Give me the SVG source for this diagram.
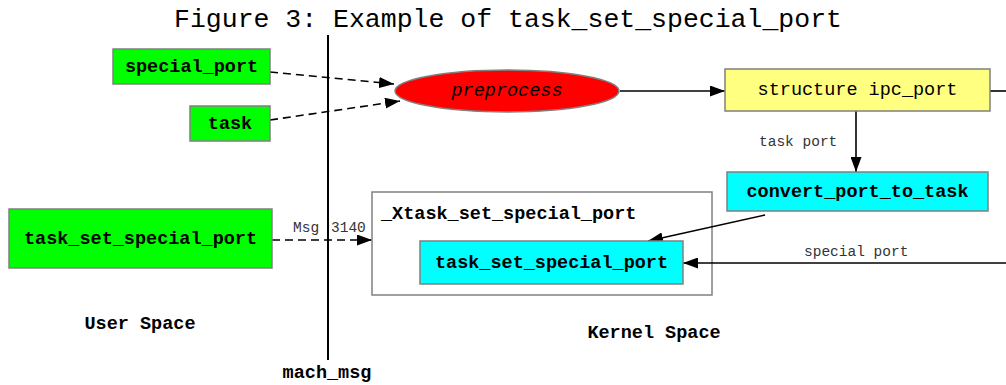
<svg xmlns="http://www.w3.org/2000/svg" width="1006" height="385" viewBox="0 0 1006 385">
  <defs>
    <marker id="arrow" markerUnits="userSpaceOnUse" markerWidth="15" markerHeight="11" refX="15" refY="5.5" orient="auto">
      <path d="M0,0 L15,5.5 L0,11 z" fill="#000"/>
    </marker>
  </defs>
  <style>
    .node { stroke: #808080; stroke-width: 1.5; }
    .user { fill: #00ff00; }
    .kern { fill: #00ffff; }
    .lbl { font-family: "Liberation Mono", "Courier New", monospace; font-size: 18.5px; font-weight: bold; fill: #000; text-anchor: middle; dominant-baseline: central; }
    .edge { stroke: #000; stroke-width: 1.6; fill: none; marker-end: url(#arrow); }
    .dash { stroke-dasharray: 8 5; }
    .elbl { font-family: "Liberation Mono", "Courier New", monospace; font-size: 14.5px; fill: #333; }
    .area { font-family: "Liberation Mono", "Courier New", monospace; font-size: 18.5px; font-weight: bold; fill: #000; }
  </style>
  <rect width="1006" height="385" fill="#fff"/>

  <!-- title -->
  <text x="508" y="27" text-anchor="middle" font-family="Liberation Mono, Courier New, monospace" font-size="26.5" fill="#000">Figure 3: Example of task_set_special_port</text>

  <!-- mach_msg boundary between user and kernel space -->
  <line x1="328" y1="35" x2="328" y2="360" stroke="#000" stroke-width="2"/>
  <text class="area" x="327" y="378" text-anchor="middle">mach_msg</text>
  <text class="area" x="140" y="329" text-anchor="middle">User Space</text>
  <text class="area" x="654" y="338" text-anchor="middle">Kernel Space</text>

  <!-- server routine cluster -->
  <g id="cluster_Xtask_set_special_port">
    <rect x="372" y="192" width="340" height="103" fill="#fff" class="node"/>
    <text class="area" x="381" y="219">_Xtask_set_special_port</text>
  </g>

  <!-- connectors -->
  <g id="edges">
    <path class="edge dash" d="M270,72 L394,84"/>
    <path class="edge dash" d="M270,120 L400,101"/>
    <path class="edge" d="M620,91 L725,91"/>
    <path d="M990,91 L1006,91" stroke="#000" stroke-width="1.6" fill="none"/>
    <path class="edge" d="M856,111 L856,172"/>
    <text class="elbl" x="759" y="146">task port</text>
    <path class="edge" d="M765,215 L648,241"/>
    <path class="edge" d="M1006,263 L683,263"/>
    <text class="elbl" x="804" y="256">special port</text>
    <path class="edge dash" d="M272,240 L372,240"/>
    <text class="elbl" x="293" y="232">Msg <tspan x="331">3140</tspan></text>
  </g>

  <!-- nodes -->
  <g id="node_special_port">
    <rect x="113" y="49" width="157" height="35" class="node user"/>
    <text class="lbl" x="191.5" y="67">special_port</text>
  </g>
  <g id="node_task">
    <rect x="190" y="106" width="80" height="35" class="node user"/>
    <text class="lbl" x="230" y="124">task</text>
  </g>
  <g id="node_task_set_special_port_user">
    <rect x="9" y="209" width="263" height="59" class="node user"/>
    <text class="lbl" x="140.5" y="239">task_set_special_port</text>
  </g>
  <g id="node_preprocess">
    <ellipse cx="507" cy="91" rx="112" ry="21" class="node" fill="#ff0000"/>
    <text x="507" y="91" text-anchor="middle" dominant-baseline="central" font-family="Liberation Mono, Courier New, monospace" font-size="18.5" font-style="italic" fill="#000">preprocess</text>
  </g>
  <g id="node_structure_ipc_port">
    <rect x="725" y="69" width="265" height="42" class="node" fill="#ffff80"/>
    <text class="lbl" x="857.5" y="90" style="font-weight:normal">structure ipc_port</text>
  </g>
  <g id="node_convert_port_to_task">
    <rect x="727" y="172" width="261" height="39" class="node kern"/>
    <text class="lbl" x="857.5" y="192">convert_port_to_task</text>
  </g>
  <g id="node_task_set_special_port_kernel">
    <rect x="420" y="241" width="263" height="43" class="node kern"/>
    <text class="lbl" x="551.5" y="263">task_set_special_port</text>
  </g>
</svg>
